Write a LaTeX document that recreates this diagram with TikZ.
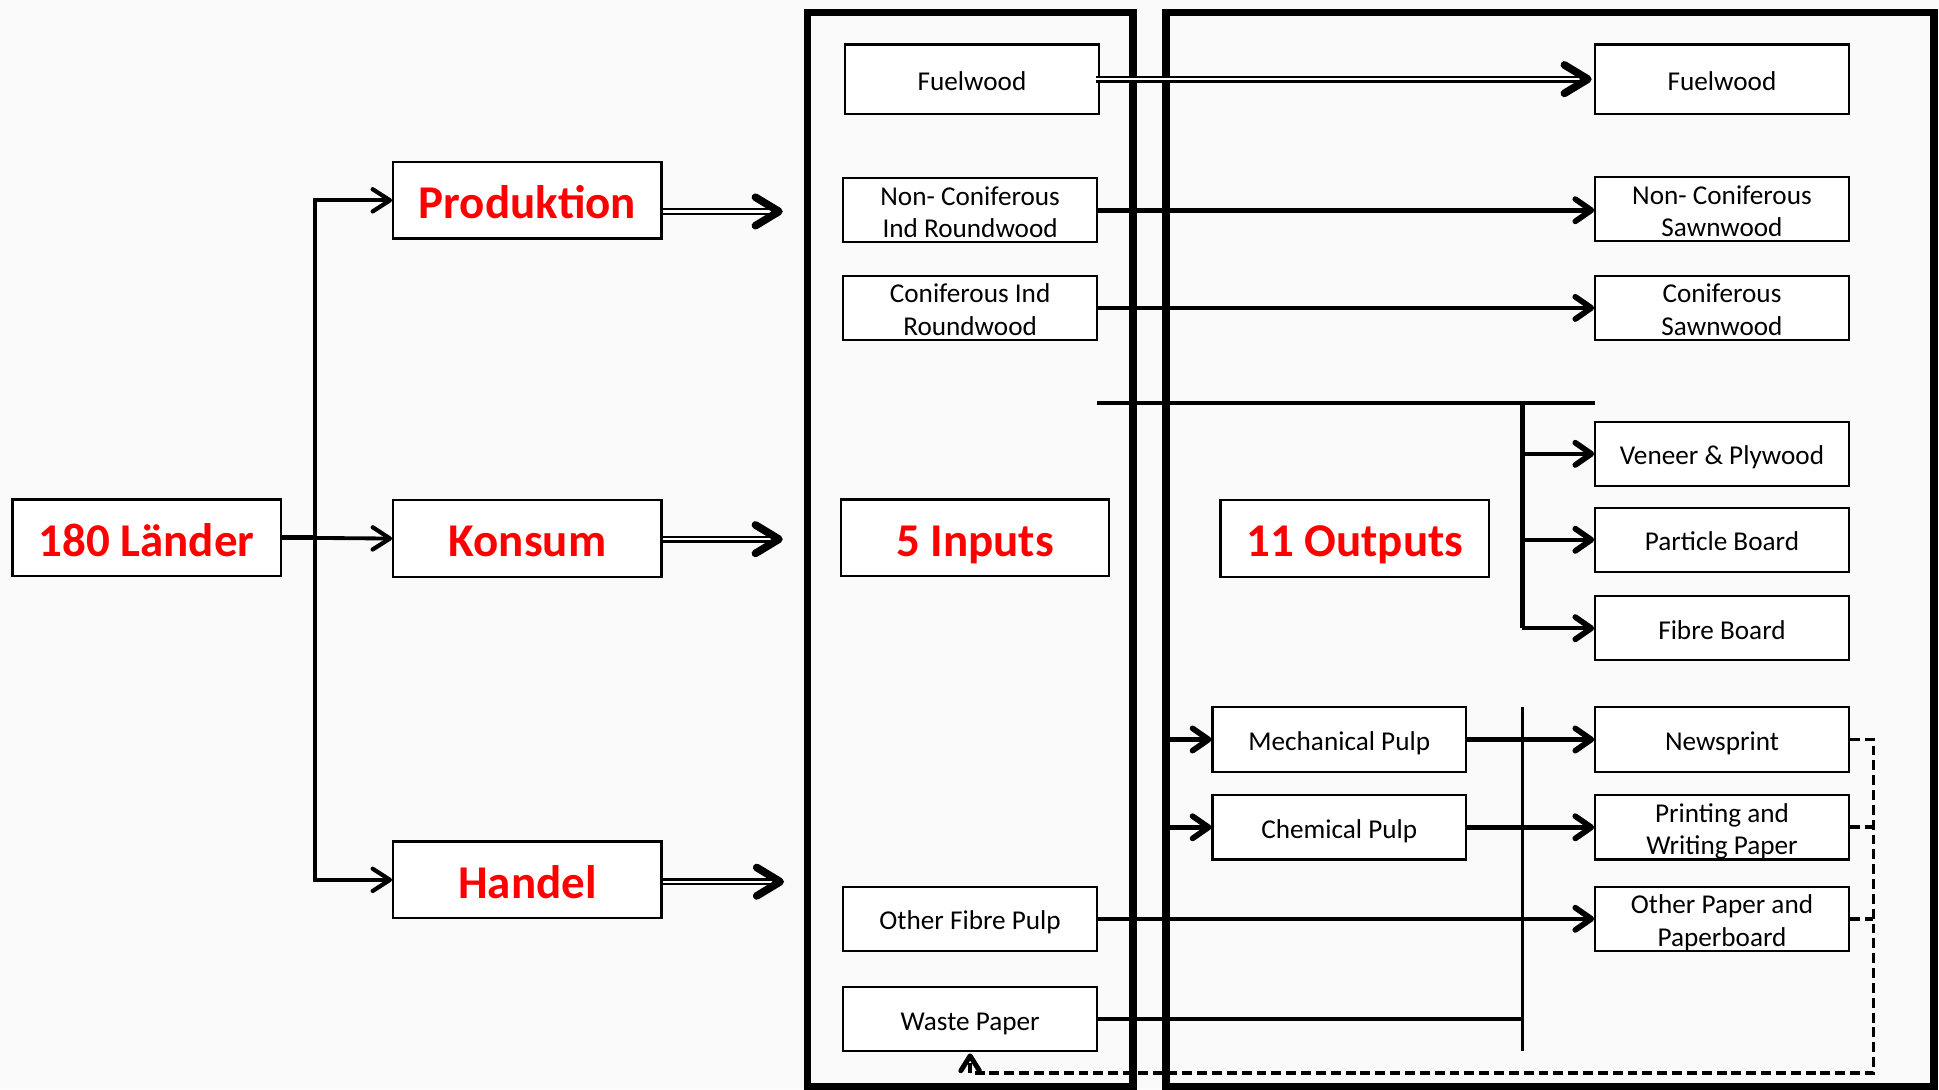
\documentclass[tikz,border=0pt]{standalone}
\usepackage{fontspec}
\setmainfont{Carlito}
\usetikzlibrary{arrows.meta,calc}
\definecolor{bg}{HTML}{FAFAFA}
\definecolor{hl}{HTML}{FF0000}

% open chevron arrow tips with a fixed stroke width (#2)
\newcommand\makechev[2]{%
  \pgfdeclarearrow{
    name = #1,
    parameters = {\the\pgfarrowlength,\the\pgfarrowwidth},
    setup code = {
      \pgfarrowssettipend{0.5\dimexpr #2\relax}
      \pgfarrowssetlineend{-1pt}
      \pgfarrowssetbackend{-\pgfarrowlength}
      \pgfarrowshullpoint{0pt}{0pt}
      \pgfarrowsupperhullpoint{-\pgfarrowlength}{.5\pgfarrowwidth}
      \pgfarrowssavethe\pgfarrowlength
      \pgfarrowssavethe\pgfarrowwidth
    },
    drawing code = {
      \pgfsetlinewidth{#2}
      \pgfsetroundcap\pgfsetroundjoin
      \pgfsetdash{}{0pt}
      \pgfpathmoveto{\pgfqpoint{-\pgfarrowlength}{.5\pgfarrowwidth}}
      \pgfpathlineto{\pgfpointorigin}
      \pgfpathlineto{\pgfqpoint{-\pgfarrowlength}{-.5\pgfarrowwidth}}
      \pgfusepathqstroke
    },
    defaults = {length=10pt,width=20pt}
  }%
}
\makechev{ChevS}{3.4pt}
\makechev{ChevM}{4.6pt}
\makechev{ChevL}{6.2pt}
\makechev{ChevD}{4pt}

\begin{document}
\begin{tikzpicture}[x=1pt,y=-1pt,
  box/.style={draw,line width=1.7pt,fill=white,minimum width=205pt,minimum height=52pt,
    inner sep=0pt,align=center,text height=18pt,text depth=0pt,
    font=\fontsize{22}{26}\selectfont},
  box2/.style={box,text height=44pt},
  hub/.style={draw,line width=1.9pt,fill=white,minimum width=217pt,minimum height=62pt,
    inner sep=0pt,text=hl,text height=29.5pt,text depth=0pt,
    font=\fontsize{38}{44}\selectfont\bfseries},
  frame/.style={line width=6.2pt},
  feed/.style={line width=3.1pt,-{ChevS[length=14pt,width=18pt]}},
  flow/.style={line width=3.7pt,-{ChevM[length=13pt,width=18pt]}},
  rail/.style={line width=3.7pt},
  thinrail/.style={line width=2.6pt},
  dbl/.style={double,line width=2pt,double distance=1.8pt},
  bigtip/.style={line width=1pt,-{ChevL[length=19pt,width=23pt]}},
  recyc/.style={line width=3.2pt,dash pattern=on 8pt off 4pt},
]
\useasboundingbox (0,0) rectangle (1568,881);
\fill[bg] (0,0) rectangle (1568,881);

% the two grouping frames
\draw[frame] (653,10) rectangle (916,879);
\draw[frame] (943,10) rectangle (1564,879);

% headline boxes
\node[hub] (land) at (118.5,435) {180 Länder};
\node[hub] (prod) at (426.5,162) {Produktion};
\node[hub] (kons) at (426.5,435.5) {Konsum};
\node[hub] (hand) at (426.5,711.5) {Handel};
\node[hub] (inp)  at (788.5,435) {5 Inputs};
\node[hub] (outp) at (1095.5,435.5) {11 Outputs};

% inputs
\node[box,minimum height=56pt] (fwIn) at (786,64) {Fuelwood};
\node[box2] (ncIn) at (784.5,170) {Non- Coniferous\\Ind Roundwood};
\node[box2] (cIn)  at (784.5,249) {Coniferous Ind\\Roundwood};
\node[box] (ofp)  at (784.5,743) {Other Fibre Pulp};
\node[box] (wp)   at (784.5,824) {Waste Paper};

% intermediate pulps
\node[box] (mech) at (1083,598) {Mechanical Pulp};
\node[box] (chem) at (1083,669) {Chemical Pulp};

% outputs
\node[box,minimum height=56pt] (fwOut) at (1392.5,64) {Fuelwood};
\node[box2] (ncOut) at (1392.5,169) {Non- Coniferous\\Sawnwood};
\node[box2] (cOut)  at (1392.5,249) {Coniferous\\Sawnwood};
\node[box] (ven)   at (1392.5,367) {Veneer \& Plywood};
\node[box] (part)  at (1392.5,436.5) {Particle Board};
\node[box] (fib)   at (1392.5,508) {Fibre Board};
\node[box] (news)  at (1392.5,598) {Newsprint};
\node[box2] (print) at (1392.5,669) {Printing and\\Writing Paper};
\node[box2] (opp)   at (1392.5,743) {Other Paper and\\Paperboard};

% countries split into the three flows
\coordinate (j) at (255,435);
\draw[line width=4pt] (land.east) -- (j);
\draw[feed] (j) |- (prod.west);
\draw[feed] (j) |- (hand.west);
\draw[feed] (j) -- (kons.west);

% flows into the inputs frame
\coordinate (pT) at (633,171);
\coordinate (kT) at (633,436);
\coordinate (hT) at (634,713);
\foreach \b/\t in {prod/pT,kons/kT,hand/hT}{
  \draw[dbl] (\b.east |- \t) -- ([xshift=-4pt]\t);
  \draw[bigtip] ([xshift=-1pt]\t) -- (\t);
}

% fuelwood passes straight through
\draw[dbl] ([xshift=-3pt]fwIn.east) -- ([xshift=-7pt]fwOut.west);
\draw[bigtip] ([xshift=-3pt]fwOut.west) -- ([xshift=-2pt]fwOut.west);

% roundwood to sawnwood
\draw[flow] (ncIn.east) -- (ncIn.east -| ncOut.west);
\draw[flow] (cIn.east) -- (cOut.west);

% roundwood to panels
\coordinate (aL) at (887,326);
\coordinate (aR) at (1290,326);
\coordinate (aJ) at (1231,326);
\draw[rail] (aL) -- (aR);
\draw[rail] (aJ) -- (aJ |- fib.west);
\draw[flow] (aJ |- ven.west) -- (ven.west);
\draw[flow] (aJ |- part.west) -- (part.west);
\draw[flow] (aJ |- fib.west) -- (fib.west);

% pulps and paper
\coordinate (edge) at (944,0);
\draw[flow] (mech.west -| edge) -- (mech.west);
\draw[flow] (chem.west -| edge) -- (chem.west);
\coordinate (bT) at (1231,572);
\coordinate (bB) at (1231,850);
\draw[thinrail] (bT) -- (bB);
\draw[flow] (mech.east) -- (news.west);
\draw[flow] (chem.east) -- (print.west);
\draw[flow] (ofp.east) -- (opp.west);
\draw[rail] (wp.east) -- (wp.east -| bT);

% recycling loop back to waste paper
\coordinate (dR) at (1515,0);
\coordinate (dB) at (0,868);
\draw[recyc,-{ChevD[length=12pt,width=15pt]}]
  (news.east) -- (news.east -| dR) -- (dR |- dB) -- (wp.south |- dB) -- ([yshift=-1pt]wp.south);
\draw[recyc] (print.east) -- (print.east -| dR);
\draw[recyc] (opp.east) -- (opp.east -| dR);
\end{tikzpicture}
\end{document}
